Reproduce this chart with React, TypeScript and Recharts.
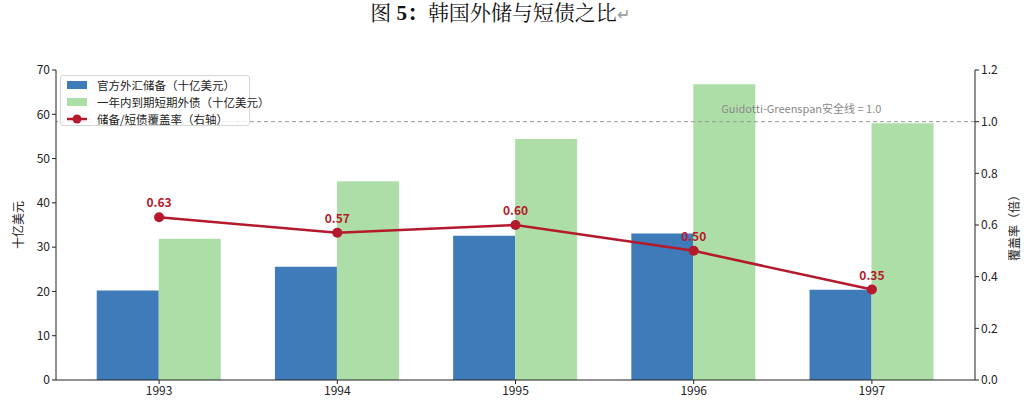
import React from "react";
import {
  Bar,
  ComposedChart,
  LabelList,
  Line,
  ReferenceLine,
  XAxis,
  YAxis,
} from "recharts";

const years = ["1993", "1994", "1995", "1996", "1997"];
const reserves = [20.2, 25.6, 32.6, 33.1, 20.4];
const shortDebt = [31.9, 44.9, 54.4, 66.8, 58.0];
const coverage = [0.63, 0.57, 0.6, 0.5, 0.35];
const leftTicks = [0, 10, 20, 30, 40, 50, 60, 70];
const rightTicks = [0, 0.2, 0.4, 0.6, 0.8, 1.0, 1.2];

const BLUE = "#3f7bb8";
const GREEN = "#aedea7";
const RED = "#b5192c";
const FONT = '"Noto Sans CJK SC", "Noto Sans", sans-serif';

const data = years.map((year, i) => ({
  year,
  reserves: reserves[i],
  shortDebt: shortDebt[i],
  coverage: coverage[i],
}));

function LegendBox() {
  const row = { display: "flex", alignItems: "center", height: 17, whiteSpace: "nowrap" } as const;
  const swatch = { flexShrink: 0, width: 20, height: 8, marginRight: 10 } as const;
  return (
    <div
      style={{
        position: "absolute",
        left: 60,
        top: 75,
        width: 190,
        height: 51,
        boxSizing: "border-box",
        border: "1px solid #d6d6d6",
        borderRadius: 3,
        background: "rgba(255,255,255,0.8)",
        padding: "0px 6px",
        fontFamily: FONT,
        fontSize: 11.5,
        color: "#222",
        zIndex: 2,
      }}
    >
      <div style={row}>
        <span style={{ ...swatch, background: BLUE }} />
        官方外汇储备（十亿美元）
      </div>
      <div style={row}>
        <span style={{ ...swatch, background: GREEN }} />
        一年内到期短期外债（十亿美元）
      </div>
      <div style={row}>
        <svg width={20} height={10} style={{ flexShrink: 0, marginRight: 10 }}>
          <line x1={0} y1={5} x2={20} y2={5} stroke={RED} strokeWidth={2.5} />
          <circle cx={10} cy={5} r={4.5} fill={RED} />
        </svg>
        储备/短债覆盖率（右轴）
      </div>
    </div>
  );
}

export default function App() {
  return (
    <div style={{ position: "absolute", left: 0, top: 0, width: 1024, height: 410, background: "#fff" }}>
      <div
        style={{
          position: "absolute",
          top: 0,
          left: 0,
          width: 1000,
          textAlign: "center",
          fontFamily: '"Liberation Serif", "Noto Serif CJK SC", "Noto Sans CJK SC", serif',
          fontSize: 21,
          lineHeight: "26px",
          color: "#111",
        }}
      >
        图 <b>5：</b>韩国外储与短债之比<span style={{ color: "#999", fontSize: 16 }}>↵</span>
      </div>
      <LegendBox />
      <ComposedChart
        width={1024}
        height={410}
        data={data}
        margin={{ top: 70, right: 0, bottom: 0, left: 0 }}
        barCategoryGap="15%"
        barGap={0}
        style={{ fontFamily: FONT }}
      >
        <XAxis
          dataKey="year"
          height={30}
          padding={{ left: 14, right: 14 }}
          tick={{ fontSize: 12, fill: "#222" }}
          tickSize={4}
          tickLine={{ stroke: "#222" }}
          axisLine={{ stroke: "#222" }}
        />
        <XAxis
          xAxisId="top"
          dataKey="year"
          orientation="top"
          height={0}
          tick={false}
          tickLine={false}
          axisLine={{ stroke: "#222" }}
        />
        <YAxis
          yAxisId="left"
          width={56}
          domain={[0, 70]}
          ticks={leftTicks}
          tick={{ fontSize: 12, fill: "#222" }}
          tickSize={4}
          tickLine={{ stroke: "#222" }}
          axisLine={{ stroke: "#222" }}
          label={{
            value: "十亿美元",
            angle: -90,
            position: "insideLeft",
            offset: 19,
            style: { fontSize: 12, fill: "#222", textAnchor: "middle" },
          }}
        />
        <YAxis
          yAxisId="right"
          orientation="right"
          width={49}
          domain={[0, 1.2]}
          ticks={rightTicks}
          tickFormatter={(v: number) => v.toFixed(1)}
          tick={{ fontSize: 12, fill: "#222" }}
          tickSize={4}
          tickLine={{ stroke: "#222" }}
          axisLine={{ stroke: "#222" }}
          label={{
            value: "覆盖率（倍）",
            angle: -90,
            position: "insideRight",
            offset: 9,
            style: { fontSize: 12, fill: "#222", textAnchor: "middle" },
          }}
        />
        <Bar yAxisId="left" dataKey="reserves" fill={BLUE} isAnimationActive={false} />
        <Bar yAxisId="left" dataKey="shortDebt" fill={GREEN} isAnimationActive={false} />
        <ReferenceLine
          yAxisId="right"
          y={1}
          stroke="#999"
          strokeWidth={1}
          strokeDasharray="4 3"
          label={(props: any) => {
            const vb = props.viewBox || {};
            return (
              <text
                x={vb.x + vb.width * 0.811}
                y={vb.y - 9}
                textAnchor="middle"
                fontSize={11}
                fill="#8a8a8a"
                fontFamily={FONT}
              >
                Guidotti-Greenspan安全线 = 1.0
              </text>
            );
          }}
        />
        <Line
          yAxisId="right"
          dataKey="coverage"
          stroke={RED}
          strokeWidth={2.5}
          dot={{ r: 5, fill: RED, stroke: RED, strokeWidth: 0 }}
          isAnimationActive={false}
        >
          <LabelList
            dataKey="coverage"
            position="top"
            offset={10}
            formatter={(v: number) => v.toFixed(2)}
            style={{ fontSize: 12, fontWeight: 700, fill: RED }}
          />
        </Line>
      </ComposedChart>
    </div>
  );
}
